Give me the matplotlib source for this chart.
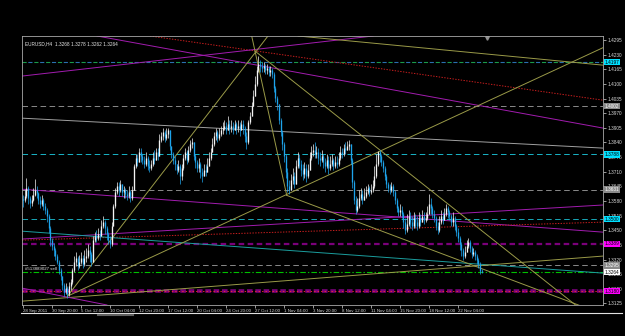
import numpy as np
import matplotlib
matplotlib.use("Agg")
import matplotlib.pyplot as plt
from matplotlib.lines import Line2D

plt.rcParams['lines.scale_dashes'] = False
FONT = ['Liberation Sans', 'DejaVu Sans']
FS = 3.4

# EURUSD H4 candles, prices in pips (price * 10000), open = previous close
first_open = 13590
close_pips = [
    13584, 13602, 13637, 13593, 13571, 13584, 13606, 13629, 13615, 13584,
    13566, 13584, 13557, 13540, 13513, 13460, 13406, 13380, 13362, 13335,
    13309, 13273, 13246, 13207, 13175, 13193, 13166, 13202, 13220, 13273,
    13309, 13326, 13291, 13309, 13326, 13300, 13326, 13335, 13362, 13344,
    13309, 13406, 13424, 13415, 13433, 13424, 13469, 13486, 13460, 13433,
    13406, 13389, 13469, 13557, 13620, 13646, 13629, 13655, 13620, 13629,
    13611, 13602, 13620, 13593, 13629, 13735, 13771, 13753, 13797, 13779,
    13762, 13744, 13771, 13735, 13726, 13744, 13771, 13762, 13797, 13779,
    13851, 13868, 13886, 13859, 13877, 13895, 13824, 13788, 13762, 13744,
    13717, 13735, 13691, 13726, 13771, 13797, 13762, 13806, 13833, 13842,
    13779, 13753, 13726, 13744, 13708, 13691, 13717, 13708, 13735, 13771,
    13797, 13833, 13868, 13886, 13859, 13877, 13895, 13904, 13913, 13895,
    13922, 13904, 13913, 13895, 13922, 13904, 13913, 13895, 13922, 13904,
    13868, 13842, 13931, 13957, 14002, 14046, 14100, 14162, 14188, 14179,
    14171, 14179, 14162, 14171, 14153, 14162, 14144, 14082, 14037, 14011,
    13940, 13886, 13833, 13779, 13708, 13646, 13629, 13673, 13691, 13655,
    13735, 13771, 13744, 13717, 13699, 13726, 13691, 13717, 13771, 13797,
    13806, 13788, 13797, 13771, 13762, 13779, 13753, 13735, 13762, 13726,
    13744, 13762, 13735, 13753, 13744, 13771, 13797, 13788, 13815, 13806,
    13824, 13833, 13762, 13664, 13584, 13540, 13557, 13593, 13611, 13584,
    13602, 13620, 13637, 13620, 13629, 13646, 13691, 13744, 13797, 13779,
    13753, 13726, 13691, 13655, 13637, 13629, 13646, 13620, 13584, 13548,
    13531, 13540, 13522, 13486, 13451, 13477, 13513, 13486, 13469, 13504,
    13486, 13469, 13504, 13486, 13513, 13495, 13504, 13522, 13566, 13548,
    13522, 13504, 13469, 13451, 13486, 13513, 13495, 13522, 13548, 13531,
    13513, 13486, 13504, 13469, 13442, 13415, 13389, 13362, 13335, 13353,
    13380, 13397, 13371, 13344, 13353, 13335, 13318, 13300, 13268, 13264]
high_pips = [
    13606, 13629, 13682, 13646, 13602, 13606, 13637, 13677, 13646, 13620,
    13602, 13606, 13593, 13571, 13548, 13522, 13469, 13415, 13393, 13371,
    13344, 13318, 13282, 13246, 13215, 13215, 13202, 13220, 13233, 13282,
    13335, 13353, 13335, 13340, 13353, 13340, 13362, 13371, 13389, 13380,
    13353, 13424, 13442, 13451, 13460, 13451, 13495, 13513, 13495, 13469,
    13442, 13424, 13486, 13566, 13637, 13664, 13664, 13673, 13655, 13646,
    13637, 13629, 13646, 13629, 13646, 13744, 13788, 13788, 13815, 13815,
    13788, 13779, 13797, 13779, 13762, 13762, 13797, 13806, 13815, 13815,
    13877, 13886, 13904, 13895, 13904, 13904, 13895, 13824, 13797, 13779,
    13744, 13762, 13744, 13744, 13788, 13815, 13806, 13824, 13851, 13859,
    13842, 13788, 13762, 13771, 13753, 13726, 13744, 13744, 13771, 13797,
    13815, 13859, 13886, 13904, 13895, 13904, 13913, 13931, 13940, 13931,
    13957, 13940, 13940, 13931, 13940, 13931, 13940, 13931, 13940, 13940,
    13913, 13886, 13940, 13975, 14020, 14073, 14135, 14179, 14224, 14206,
    14197, 14197, 14188, 14188, 14179, 14179, 14171, 14153, 14091, 14046,
    14011, 13948, 13895, 13842, 13788, 13726, 13673, 13699, 13726, 13708,
    13762, 13797, 13788, 13762, 13744, 13753, 13744, 13744, 13797, 13824,
    13833, 13842, 13824, 13815, 13797, 13806, 13788, 13771, 13788, 13779,
    13779, 13788, 13771, 13779, 13779, 13797, 13824, 13815, 13833, 13842,
    13847, 13851, 13833, 13771, 13673, 13602, 13593, 13629, 13637, 13629,
    13637, 13646, 13655, 13646, 13655, 13673, 13735, 13788, 13802, 13806,
    13788, 13762, 13735, 13699, 13664, 13655, 13664, 13655, 13629, 13593,
    13557, 13566, 13557, 13531, 13504, 13522, 13540, 13531, 13513, 13531,
    13522, 13513, 13531, 13522, 13540, 13531, 13531, 13557, 13611, 13593,
    13557, 13540, 13513, 13486, 13513, 13540, 13531, 13548, 13566, 13557,
    13540, 13522, 13531, 13513, 13477, 13460, 13424, 13397, 13371, 13380,
    13406, 13415, 13406, 13380, 13371, 13362, 13344, 13326, 13309, 13278]
low_pips = [
    13553, 13575, 13593, 13566, 13548, 13557, 13580, 13602, 13593, 13566,
    13548, 13557, 13540, 13522, 13486, 13437, 13380, 13362, 13335, 13318,
    13300, 13255, 13229, 13184, 13157, 13166, 13149, 13157, 13184, 13211,
    13264, 13291, 13273, 13282, 13300, 13282, 13291, 13309, 13326, 13309,
    13291, 13309, 13397, 13397, 13406, 13406, 13424, 13460, 13433, 13406,
    13389, 13371, 13380, 13469, 13548, 13611, 13602, 13620, 13602, 13593,
    13593, 13584, 13593, 13575, 13584, 13629, 13726, 13735, 13762, 13753,
    13744, 13726, 13735, 13717, 13708, 13717, 13735, 13744, 13762, 13762,
    13806, 13842, 13851, 13842, 13851, 13859, 13806, 13771, 13744, 13717,
    13699, 13708, 13655, 13673, 13717, 13762, 13744, 13753, 13797, 13815,
    13762, 13726, 13708, 13708, 13682, 13664, 13691, 13691, 13708, 13735,
    13762, 13797, 13824, 13851, 13842, 13851, 13868, 13877, 13895, 13877,
    13895, 13877, 13886, 13877, 13895, 13877, 13886, 13868, 13895, 13877,
    13842, 13811, 13833, 13922, 13957, 14002, 14046, 14091, 14153, 14153,
    14153, 14153, 14144, 14144, 14135, 14135, 14126, 14064, 14020, 13984,
    13922, 13868, 13806, 13753, 13682, 13620, 13611, 13629, 13655, 13637,
    13655, 13726, 13726, 13691, 13673, 13682, 13664, 13682, 13717, 13762,
    13779, 13771, 13771, 13744, 13735, 13753, 13726, 13708, 13726, 13699,
    13717, 13735, 13717, 13726, 13726, 13735, 13762, 13771, 13779, 13788,
    13806, 13806, 13744, 13637, 13566, 13522, 13531, 13548, 13584, 13566,
    13584, 13593, 13611, 13602, 13611, 13620, 13637, 13682, 13735, 13753,
    13735, 13708, 13673, 13637, 13620, 13611, 13620, 13602, 13566, 13531,
    13513, 13513, 13504, 13460, 13433, 13442, 13469, 13460, 13451, 13460,
    13460, 13451, 13460, 13469, 13486, 13477, 13486, 13495, 13522, 13522,
    13504, 13486, 13451, 13433, 13442, 13477, 13477, 13495, 13513, 13504,
    13495, 13469, 13469, 13451, 13424, 13397, 13362, 13335, 13318, 13326,
    13362, 13371, 13353, 13326, 13335, 13318, 13300, 13282, 13255, 13262]

date_labels = ["28 Sep 2011", "30 Sep 20:00", "5 Oct 12:00", "10 Oct 04:00",
               "12 Oct 20:00", "17 Oct 12:00", "20 Oct 04:00", "24 Oct 20:00",
               "27 Oct 12:00", "1 Nov 04:00", "3 Nov 20:00", "8 Nov 12:00",
               "11 Nov 04:00", "15 Nov 20:00", "18 Nov 12:00", "22 Nov 04:00"]
bars_per_label = 17

price_ticks = [1.4295, 1.4230, 1.4165, 1.4100, 1.4035, 1.3970, 1.3905, 1.3840,
               1.3775, 1.3710, 1.3645, 1.3580, 1.3515, 1.3450, 1.3385, 1.3320,
               1.3255, 1.3190, 1.3125]

header = "EURUSD,H4  1.3268 1.3278 1.3262 1.3264"
order_text = "#513889027 sell"

# horizontal levels: price, line colour, dash, width, label bg, label fg
levels = [
    (1.4197, '#1a9a4a', (0, (3, 5.5)), 0.8, '#00e0ff', 'black'),
    (1.4002, '#8a8a8a', (0, (4, 2.5)), 0.7, '#8a8a8a', 'white'),
    (1.3788, '#19b5c8', (0, (4, 2.5)), 0.7, '#00e0ff', 'black'),
    (1.3631, '#8a8a8a', (0, (4, 2.5)), 0.7, '#8a8a8a', 'white'),
    (1.3500, '#18a8b8', (0, (4, 2.5)), 0.7, '#00e0ff', 'black'),
    (1.3389, '#7a007a', (0, (4, 2.5)), 1.6, '#ff00ff', 'black'),
    (1.3295, '#8a8a8a', (0, (4, 2.5)), 0.7, '#8a8a8a', 'white'),
    (1.3264, '#00c000', (0, (4, 1.5, 1, 1.5)), 0.8, '#ffffff', 'black'),
    (1.3180, '#7a007a', (0, (4, 2)), 2.6, '#ff00ff', 'black'),
]

MAG, RED, OLIVE, GRAY, TEAL = '#a21caf', '#c81e1e', '#9a9a48', '#a0a0a0', '#1b9e9e'

# trendlines through two anchors (bar, price), drawn edge to edge
full_lines = [
    (43.4, 1.4313, 340.0, 1.3904, MAG, '-'),
    (74.4, 1.4313, 340.0, 1.4028, RED, (0, (1, 1))),
    (-0.6, 1.4135, 205.2, 1.4313, MAG, '-'),
    (-0.6, 1.3948, 340.0, 1.3815, GRAY, '-'),
    (-1.8, 1.3633, 339.4, 1.3442, MAG, '-'),
    (-0.6, 1.3411, 339.4, 1.3562, MAG, '-'),
    (-0.6, 1.3406, 339.4, 1.3486, RED, (0, (1, 1))),
    (-0.6, 1.3446, 339.4, 1.3260, TEAL, '-'),
    (-0.6, 1.3135, 339.4, 1.3335, OLIVE, '-'),
    (168.2, 1.4308, 339.4, 1.4184, OLIVE, '-'),
    (-0.6, 1.3193, 49.2, 1.3118, MAG, '-'),
]
# rays from the first anchor through the second
rays = [
    (26.0, 1.3157, 143.6, 1.4313),
    (26.0, 1.3157, 339.4, 1.4259),
    (154.6, 1.3605, 136.0, 1.4246),
    (136.0, 1.4246, 322.4, 1.3127),
    (154.6, 1.3605, 322.4, 1.3127),
]

c = np.array(close_pips) / 10000
h = np.array(high_pips) / 10000
l = np.array(low_pips) / 10000
o = np.r_[first_open / 10000, c[:-1]]
idx = np.arange(len(c))
h = np.maximum(h, np.maximum(o, c))
l = np.minimum(l, np.minimum(o, c))

fig = plt.figure(figsize=(6.25, 3.36), dpi=100, facecolor='black')
ax = fig.add_axes([22 / 625, 31 / 336, 581 / 625, 269 / 336], facecolor='black')

for lv in levels:
    price, col, dash, lw = lv[0], lv[1], lv[2], lv[3]
    ax.axhline(price, color=col, ls=dash, lw=lw, zorder=1)
ax.axhline(levels[0][0], color='#2a6fb0', ls=(4.3, (3, 5.5)), lw=0.8, zorder=1)
ax.axhline(levels[-1][0], color='#ff3030', ls=(0, (1, 1.5)), lw=0.6, zorder=1)

for x0, y0, x1, y1, col, ls in full_lines:
    ax.axline((x0, y0), (x1, y1), color=col, ls=ls, lw=0.7, zorder=2)
for x0, y0, x1, y1 in rays:
    ax.plot([x0, x0 + 10 * (x1 - x0)], [y0, y0 + 10 * (y1 - y0)],
            color=OLIVE, lw=0.7, zorder=2)

up = c >= o
cols = np.where(up, '#f4f4f4', '#1ea4ec')
body_lo = np.minimum(o, c)
body_hi = np.maximum(np.maximum(o, c), body_lo + 0.00012)
ax.vlines(idx, l, h, colors=cols, lw=0.5, zorder=4)
ax.vlines(idx, body_lo, body_hi, colors=cols, lw=0.95, zorder=4)

# chart shift marker
ax.plot([len(c) + 2], [1.4305], marker='v', ms=2.5, color='#909090', clip_on=False)

ax.set_xlim(-0.6, 340)
ax.set_ylim(1.3118, 1.4313)

ax.yaxis.tick_right()
ax.set_yticks(price_ticks)
ax.set_yticklabels([f"{p:.4f}" for p in price_ticks], family=FONT)
ax.set_xticks(idx[::bars_per_label][:len(date_labels)])
ax.set_xticklabels(date_labels, family=FONT, ha='left')
ax.tick_params(axis='both', colors='#d8d8d8', labelsize=FS, length=2,
               width=0.5, pad=1.0, direction='out')
ax.tick_params(axis='x', labelsize=3.2)
for sp in ax.spines.values():
    sp.set_color('#a8a8a8')
    sp.set_linewidth(0.6)

ytr = ax.get_yaxis_transform()
for lv in levels:
    ax.text(1.003, lv[0], f"{lv[0]:.4f}", transform=ytr, ha='left', va='center',
            fontsize=FS, family=FONT, color=lv[5], zorder=10, clip_on=False,
            bbox=dict(facecolor=lv[4], edgecolor='none', pad=0.6))

ax.text(0.006, 0.982, header, transform=ax.transAxes, ha='left', va='top',
        fontsize=FS, family=FONT, color='#e8e8e8')
ax.text(0.006, levels[7][0] + 0.0004, order_text, transform=ytr, ha='left',
        va='bottom', fontsize=3.2, family=FONT, color='#e8e8e8')

fig.add_artist(Line2D([21 / 625, 622 / 625], [23 / 336, 23 / 336],
                      color='#e0e0e0', lw=0.8))
fig.add_artist(Line2D([98 / 625, 133 / 625], [21.5 / 336, 21.5 / 336],
                      color='#606060', lw=1.5))

fig.savefig("out.png", dpi=100, facecolor='black')
